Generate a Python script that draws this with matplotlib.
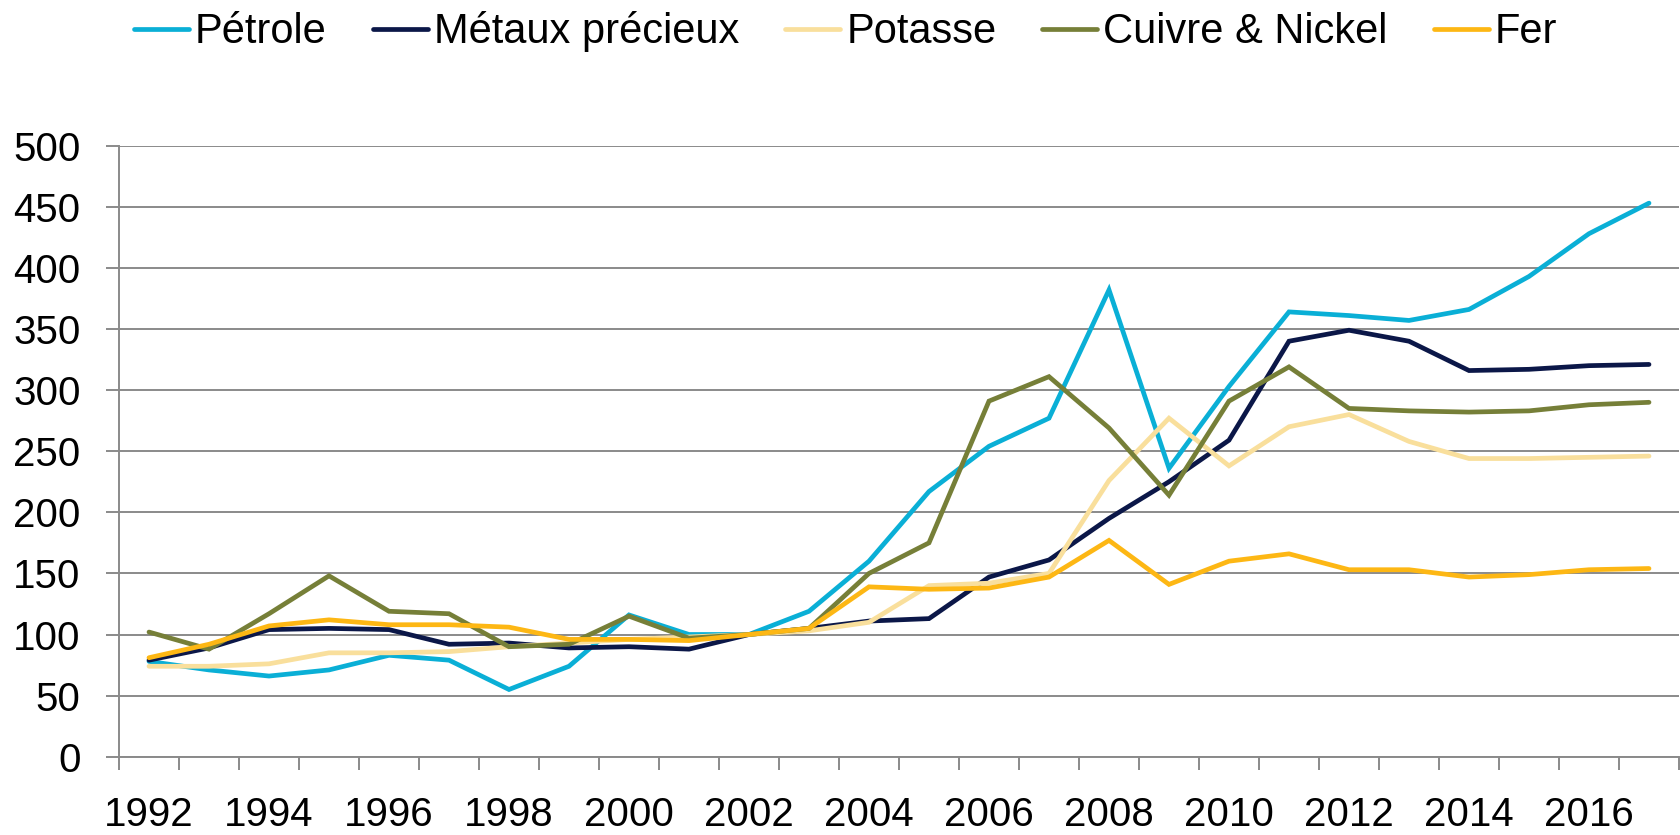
import numpy as np
import matplotlib
matplotlib.use("Agg")
import matplotlib.pyplot as plt

plt.rcParams['font.family'] = ['Liberation Sans', 'DejaVu Sans']

years = list(range(1992, 2018))

petrole = [78, 71, 66, 71, 83, 79, 55, 74, 116, 100, 100, 119, 160, 217, 254, 277,
           382, 236, 303, 364, 361, 357, 366, 393, 428, 453]
metaux = [79, 89, 104, 105, 104, 92, 93, 89, 90, 88, 100, 105, 111, 113, 147, 161,
          195, 225, 259, 340, 349, 340, 316, 317, 320, 321]
potasse = [74, 74, 76, 85, 85, 86, 90, 93, 96, 98, 100, 103, 110, 140, 142, 150,
           226, 277, 238, 270, 280, 258, 244, 244, 245, 246]
cuivre = [102, 88, 117, 148, 119, 117, 90, 92, 115, 97, 100, 105, 150, 175, 291, 311,
          269, 214, 291, 319, 285, 283, 282, 283, 288, 290]
fer = [81, 92, 107, 112, 108, 108, 106, 96, 96, 95, 100, 105, 139, 137, 138, 147,
       177, 141, 160, 166, 153, 153, 147, 149, 153, 154]

series = [
    ("Pétrole", petrole, "#0AAFD6"),
    ("Métaux précieux", metaux, "#0B1748"),
    ("Potasse", potasse, "#F9DF9C"),
    ("Cuivre & Nickel", cuivre, "#767F38"),
    ("Fer", fer, "#FDB714"),
]

grey = "#8A8A8A"

fig = plt.figure(figsize=(16.81, 8.35), dpi=100)
ax = fig.add_axes([119 / 1681, 78.3 / 835, (1679 - 119) / 1681, (756.7 - 145.7) / 835])

x = np.arange(len(years))
for name, vals, col in series:
    ax.plot(x, vals, color=col, lw=3.4, label=name, solid_capstyle='round',
            solid_joinstyle='miter')

ax.set_xlim(-0.5, len(years) - 0.5)
ax.set_ylim(0, 500)
ax.set_yticks(np.arange(0, 501, 50))
ax.grid(axis='y', color=grey, lw=1.4)
ax.set_axisbelow(True)

ax.set_xticks(x[::2])
ax.set_xticklabels([str(y) for y in years[::2]])
ax.set_xticks(np.arange(-0.5, len(years), 1), minor=True)
ax.tick_params(axis='x', which='major', length=0, pad=28.5, labelsize=29)
ax.tick_params(axis='x', which='minor', length=9.6, width=1.4, color=grey, direction='out')
ax.tick_params(axis='y', length=9.6, width=1.4, color=grey, pad=18, labelsize=29)

for s in ['top', 'right']:
    ax.spines[s].set_visible(False)
for s in ['left', 'bottom']:
    ax.spines[s].set_color(grey)
    ax.spines[s].set_linewidth(1.4)

fig.legend(loc='center', bbox_to_anchor=(0.503, 0.962), ncol=5, frameon=False,
           fontsize=30, handlelength=1.32, handletextpad=0.15, columnspacing=1.1,
           borderpad=0, borderaxespad=0)

fig.savefig("out.png", dpi=100)
